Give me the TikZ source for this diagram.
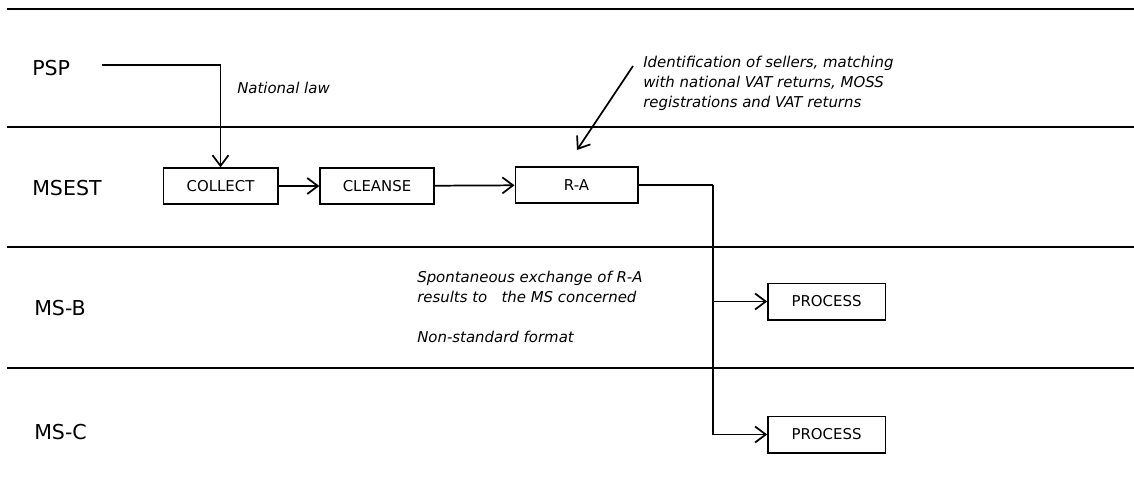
\documentclass[tikz,border=0pt]{standalone}
\usepackage{fontspec}
\setmainfont{DejaVu Sans}
\usetikzlibrary{arrows.meta,positioning}
\tikzset{
  lane/.style={line width=1.5pt},
  lanelabel/.style={anchor=west, inner sep=0pt, font=\fontsize{15.4}{18}\selectfont},
  stepbox/.style={draw, line width=1pt, minimum height=27pt, inner sep=0pt, font=\fontsize{11.2}{14}\selectfont},
  note/.style={inner sep=0pt, align=left, font=\fontsize{11.2}{15}\selectfont\itshape},
  conn/.style={line width=1.3pt, -{Straight Barb[length=8pt, width=12pt, line width=1.3pt]}},
}
\begin{document}
\begin{tikzpicture}[x=0.75pt, y=-0.75pt]
\useasboundingbox (0,0) rectangle (1134,485);
% lanes
\draw[lane] (7,9) -- (1134,9);
\draw[lane] (7,127) -- (1134,127);
\draw[lane] (7,247) -- (1134,247);
\draw[lane] (7,368) -- (1134,368);
% lane labels
\node[lanelabel] (psp) at (32,68) {PSP};
\node[lanelabel] (msest) at (32,188) {MSEST};
\node[lanelabel] (msb) at (34,308) {MS-B};
\node[lanelabel] (msc) at (34,432) {MS-C};
% boxes
\node[stepbox, minimum width=86pt] (collect) at (220.5,186) {COLLECT};
\node[stepbox, minimum width=85.5pt] (cleanse) at (377,186) {CLEANSE};
\node[stepbox, minimum width=92pt] (ra) at (576.5,185) {R-A};
\node[stepbox, minimum width=88pt, minimum height=27.5pt] (p1) at (826.5,301.5) {PROCESS};
\node[stepbox, minimum width=88pt, minimum height=27.5pt] (p2) at (826.5,434.5) {PROCESS};
% notes
\node[note, anchor=west] (law) at (237,88) {National law};
\node[note, anchor=north west] (ident) at (643,56) {Identification of sellers, matching\\with national VAT returns, MOSS\\registrations and VAT returns};
\node[note, anchor=north west] (spont) at (417,271) {Spontaneous exchange of R-A\\results to\ \ \ the MS concerned\\[15pt]Non-standard format};
% coordinates
\coordinate (pspst) at (102,65);
\coordinate (idst) at (633,66);
\coordinate (idend) at (577,150);
\coordinate (j) at (713,185);
\coordinate (k) at (713,301.5);
% connectors
\draw[conn] (pspst) -| (collect.north);
\draw[conn] (collect) -- (cleanse);
\draw[conn] (cleanse) -- (ra);
\draw[conn] (idst) -- (idend);
\draw[line width=1.3pt] (ra.east) -- (j);
\draw[line width=2pt] (j) -- (k);
\draw[conn] (k) -- (p1.west);
\draw[conn] (k) |- (p2.west);
\end{tikzpicture}
\end{document}
